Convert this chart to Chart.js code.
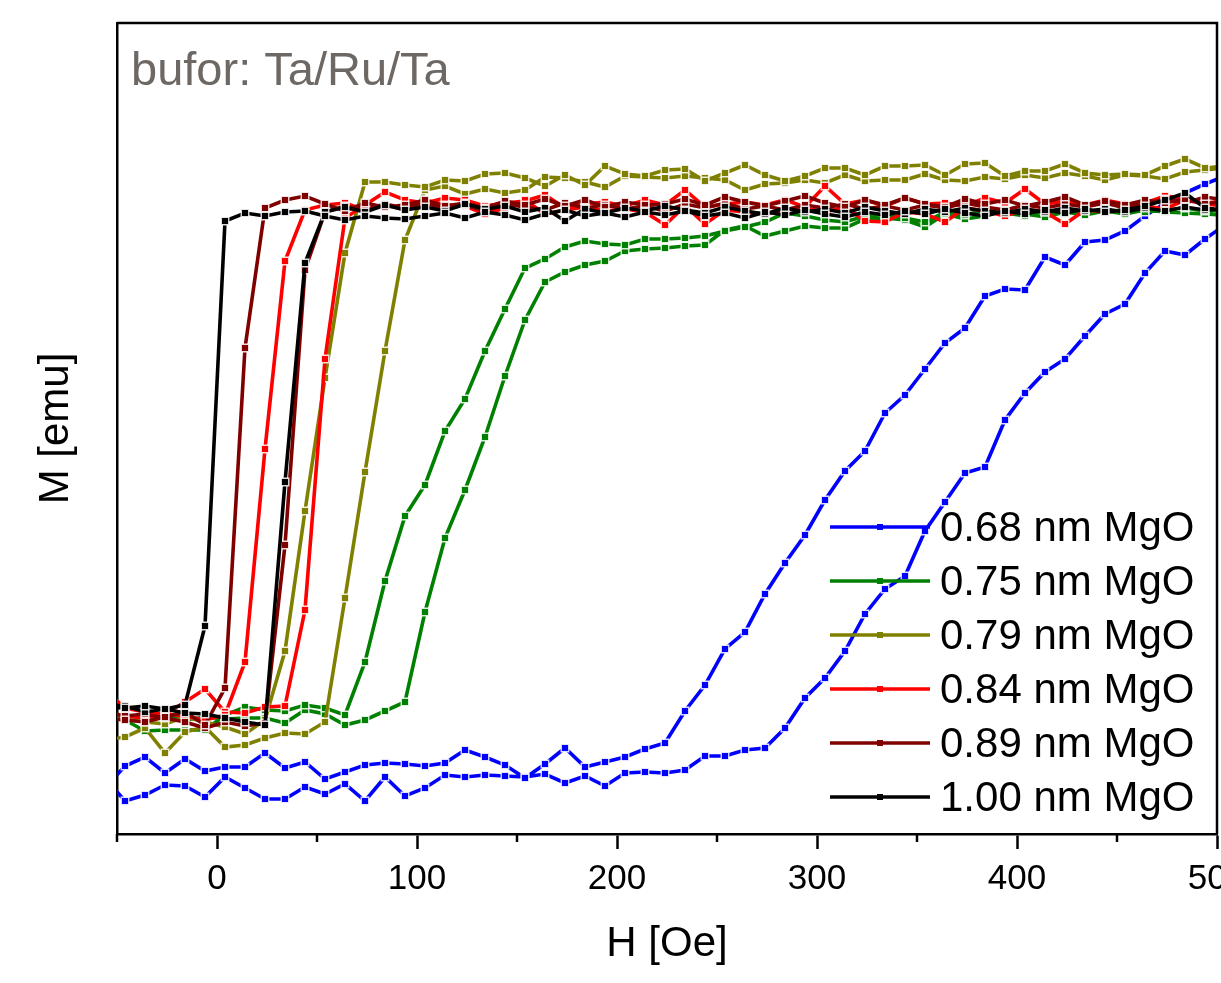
<!DOCTYPE html>
<html>
<head>
<meta charset="utf-8">
<title>MgO loops</title>
<script src="https://cdn.jsdelivr.net/npm/chart.js@4.4.1/dist/chart.umd.min.js"></script>
<style>
  html, body { margin: 0; padding: 0; background: #fff; }
  #wrap { width: 1221px; height: 983px; }
</style>
</head>
<body>
<div id="wrap"><canvas id="chart" width="1221" height="983"></canvas></div>
<script>
// Field grid (Oe) shared by every branch
const hField = [-56,-46,-36,-26,-16,-6,4,14,24,34,44,54,64,74,84,94,104,114,124,134,
  144,154,164,174,184,194,204,214,224,234,244,254,264,274,284,294,304,314,324,334,
  344,354,364,374,384,394,404,414,424,434,444,454,464,474,484,494,504];

// Magnetization (arb. units), "Up" = ascending field branch, "Dn" = descending branch
const m068Up = [5.6,3.3,3.9,4.9,4.8,3.7,5.7,4.6,3.5,3.5, 4.7,4.0,5.0,3.3,5.7,3.8,4.6,5.9,5.7,5.9,
  5.8,5.7,6.0,5.1,5.8,4.8,6.1,6.2,6.1,6.4, 7.8,7.8,8.4,8.6,10.6,13.6,15.6,18.3,22.0,24.5,
  25.8,30.3,33.2,36.1,36.7,41.4,44.1,46.2,47.5,49.8, 52.0,53.0,56.1,58.3,57.9,59.5,60.9];
const m068Dn = [4.6,6.8,7.7,6.1,7.5,6.3,6.7,6.7,8.1,6.6, 7.2,5.5,6.2,6.9,7.1,7.0,6.8,7.1,8.4,7.7,
  6.9,5.6,7.0,8.6,6.7,7.2,7.7,8.5,9.1,12.3, 14.9,18.5,20.2,24.0,27.1,29.9,33.4,36.3,38.3,42.1,
  43.9,46.5,49.1,50.6,53.8,54.5,54.4,57.7,56.9,59.2, 59.4,60.3,61.8,63.1,64.1,65.0,65.8];

const m075Up = [12.2,11.8,11.6,11.8,11.4,11.7,11.5,11.6,11.6,11.1, 12.4,12.0,10.9,11.4,12.3,13.2,22.2,29.6,34.4,39.7,
  45.8,51.4,55.2,56.2,56.9,57.3,58.3,58.5,58.6,58.8, 58.9,60.4,60.8,59.8,60.3,60.8,60.6,60.6,61.5,61.6,
  61.4,60.7,62.0,61.5,61.8,62.4,62.0,61.7,62.2,61.9, 62.3,62.0,62.4,62.2,62.1,62.0,61.9];
const m075Dn = [12.6,11.4,10.3,10.4,10.4,10.4,11.9,12.7,12.4,12.3, 12.9,12.6,11.9,17.2,25.3,31.8,34.9,40.3,43.5,48.3,
  52.5,56.6,57.5,58.7,59.3,59.0,58.9,59.5,59.5,59.6, 59.8,60.3,60.7,61.2,62.1,61.8,61.4,61.2,61.8,62.0,
  61.6,61.2,62.2,61.9,62.4,62.1,61.8,62.3,62.0,62.4, 62.1,62.5,62.2,62.4,62.6,62.3,62.4];

const m079Up = [9.4,9.7,10.6,8.1,10.2,10.7,8.7,8.9,9.6,10.1, 10.0,11.2,23.6,36.2,48.3,59.4,64.4,64.8,64.0,64.5,
  64.1,64.4,65.7,65.6,65.2,64.7,65.8,65.7,65.6,65.8, 65.6,65.4,64.4,65.0,65.1,65.4,65.1,65.9,65.3,65.4,
  65.4,66.0,65.4,65.3,65.7,65.5,65.9,65.6,66.1,65.8, 65.4,65.9,65.8,65.5,66.2,66.4,66.6];
const m079Dn = [11.4,11.5,11.2,11.0,11.7,11.2,10.7,10.0,11.4,18.3, 32.3,45.6,58.1,65.2,65.2,64.9,64.7,65.4,65.3,66.0,
  66.1,65.6,64.8,65.9,64.9,66.8,66.0,65.8,66.4,66.5, 65.3,66.1,66.9,65.9,65.3,65.8,66.6,66.6,65.9,66.8,
  66.8,66.9,65.9,67.0,67.1,65.8,66.3,66.3,67.0,66.1, 65.9,66.0,65.9,66.8,67.5,66.6,66.8];

const m084Up = [14.4,12.6,12.2,12.0,13.2,14.5,12.2,12.1,12.7,12.8, 22.4,47.5,61.6,62.9,64.2,63.4,63.1,63.6,63.4,62.8,
  63.1,63.3,63.9,62.6,63.0,63.2,62.8,63.4,62.9,64.4, 62.7,63.0,63.2,62.9,63.4,62.7,64.8,63.0,63.4,62.8,
  63.6,63.0,63.1,62.8,63.6,63.1,64.5,63.0,63.3,62.9, 63.4,63.0,63.1,63.8,63.6,63.1,63.3];
const m084Dn = [12.2,11.8,11.6,12.0,11.8,11.4,11.9,17.2,38.5,57.3, 62.4,62.9,63.1,62.4,63.0,62.4,63.4,62.9,62.8,62.0,
  62.6,63.4,62.0,62.4,62.7,62.3,62.5,62.2,60.9,62.8, 61.0,62.4,62.2,62.0,62.4,62.6,62.2,62.7,61.3,61.2,
  62.2,62.0,61.2,62.6,62.3,61.8,62.5,62.2,61.0,62.4, 62.2,62.4,62.8,62.5,63.4,63.0,62.8];

const m089Up = [12.2,11.8,12.0,11.6,11.2,10.6,11.2,10.8,11.1,28.9, 56.4,62.2,62.8,62.4,63.0,62.6,63.1,62.5,62.9,62.3,
  63.0,62.7,62.4,63.1,62.6,62.9,62.5,62.8,62.3,63.0, 62.6,63.1,62.5,62.8,62.4,62.9,62.6,63.0,62.5,62.8,
  62.4,62.9,62.6,63.1,62.7,62.4,62.9,62.6,63.0,62.7, 63.1,62.6,63.0,63.5,63.1,63.7,63.4];
const m089Dn = [11.6,11.4,11.2,11.7,12.2,10.9,14.6,48.6,62.6,63.4, 63.8,63.0,62.3,63.1,62.7,62.9,63.4,62.8,63.1,62.6,
  63.3,62.9,63.5,62.8,63.4,62.7,63.2,62.9,63.0,63.5, 62.9,63.7,63.2,62.8,63.3,63.8,63.1,62.7,63.4,62.9,
  63.6,63.0,62.7,63.5,63.0,63.4,62.8,63.2,63.7,62.9, 63.3,62.9,63.4,63.1,63.5,63.0,63.3];

const m100Up = [12.9,12.8,12.2,12.5,12.1,12.0,11.6,11.2,10.9,35.2, 57.1,62.2,62.7,62.2,62.9,62.4,62.7,62.3,63.0,62.5,
  62.8,62.2,62.6,61.3,62.5,62.1,62.6,62.3,62.8,62.4, 62.1,62.7,62.3,62.0,62.6,62.2,62.5,62.1,62.7,62.3,
  62.0,62.5,62.2,62.6,62.3,62.1,62.5,62.2,62.6,62.3, 62.5,62.2,62.6,62.3,62.7,62.4,62.5];
const m100Dn = [12.7,12.6,12.8,12.5,12.9,20.8,61.3,62.1,61.8,62.2, 62.3,61.8,61.4,61.8,61.6,61.5,61.8,62.1,61.6,62.2,
  61.9,61.4,62.0,62.4,61.8,62.1,61.7,62.2,61.9,62.3, 61.8,62.1,61.6,62.2,61.9,62.4,62.0,61.7,62.2,61.9,
  62.3,62.0,62.5,62.1,61.8,62.3,62.0,62.4,62.1,62.5, 62.2,62.4,62.8,63.4,64.1,62.6,62.4];

const sampleLabels = ['0.68 nm MgO', '0.75 nm MgO', '0.79 nm MgO', '0.84 nm MgO', '0.89 nm MgO', '1.00 nm MgO'];
const majorTicks = [0, 100, 200, 300, 400, 500];
const minorTicks = [-50, 50, 150, 250, 350, 450];

const sampleColors = ['#0000ff', '#008000', '#808000', '#ff0000', '#800000', '#000000'];
const branches = [[m068Up, m068Dn], [m075Up, m075Dn], [m079Up, m079Dn],
  [m084Up, m084Dn], [m089Up, m089Dn], [m100Up, m100Dn]];

const FONT = "'Liberation Sans', Arial, sans-serif";
Chart.defaults.font.family = FONT;
Chart.defaults.color = '#000';

// one closed loop per sample: ascending branch, then descending branch back
const datasets = sampleLabels.map((label, i) => {
  const [up, dn] = branches[i];
  const loop = hField.map((h, k) => ({ x: h, y: up[k] }))
    .concat(hField.map((h, k) => ({ x: h, y: dn[k] })).reverse());
  return {
    label,
    data: loop,
    borderColor: sampleColors[i],
    backgroundColor: sampleColors[i],
    borderWidth: 3.6,
    pointStyle: 'rect',
    pointRadius: 5.3,
    pointBorderWidth: 1.4,
    pointBorderColor: 'rgba(255,255,255,0.85)',
    pointBackgroundColor: sampleColors[i],
    tension: 0,
    order: sampleLabels.length - i
  };
});

// frame on top and right, minor ticks
const framePlugin = {
  id: 'frame',
  afterDraw(chart) {
    const { ctx, chartArea: a } = chart;
    ctx.save();
    ctx.strokeStyle = '#000';
    ctx.lineWidth = 2.5;
    ctx.beginPath();
    ctx.moveTo(a.left, a.top);
    ctx.lineTo(a.right, a.top);
    ctx.lineTo(a.right, a.bottom);
    ctx.stroke();
    const xs = chart.scales.x;
    ctx.beginPath();
    minorTicks.forEach(v => {
      const px = xs.getPixelForValue(v);
      ctx.moveTo(px, a.bottom);
      ctx.lineTo(px, a.bottom + 8);
    });
    ctx.stroke();
    ctx.restore();
  }
};

// sample name and legend inside the plot
const notePlugin = {
  id: 'note',
  afterDraw(chart) {
    const { ctx, chartArea: a } = chart;
    ctx.save();
    ctx.fillStyle = '#6d6863';
    ctx.font = '47px ' + FONT;
    ctx.textBaseline = 'alphabetic';
    ctx.fillText('bufor: Ta/Ru/Ta', a.left + 14, a.top + 62);

    const x0 = a.right - 387, x1 = a.right - 287;
    ctx.font = '42px ' + FONT;
    ctx.textBaseline = 'middle';
    const n = chart.data.datasets.length;
    chart.data.datasets.forEach((ds, i) => {
      const y = a.bottom - 37 - (n - 1 - i) * 54;
      ctx.strokeStyle = ds.borderColor;
      ctx.lineWidth = 3.5;
      ctx.beginPath();
      ctx.moveTo(x0, y);
      ctx.lineTo(x1, y);
      ctx.stroke();
      ctx.fillStyle = ds.borderColor;
      ctx.fillRect((x0 + x1) / 2 - 3, y - 3, 6, 6);
      ctx.fillStyle = '#000';
      ctx.fillText(ds.label, x1 + 10, y + 2);
    });
    ctx.restore();
  }
};

new Chart(document.getElementById('chart'), {
  type: 'line',
  data: { datasets },
  options: {
    responsive: false,
    animation: false,
    events: [],
    layout: { autoPadding: false, padding: { top: 23, right: 4, left: 0, bottom: 0 } },
    plugins: { legend: { display: false }, tooltip: { enabled: false } },
    scales: {
      x: {
        type: 'linear',
        min: -50,
        max: 500,
        afterBuildTicks: s => { s.ticks = majorTicks.map(v => ({ value: v })); },
        afterFit: s => { s.height = 149; s.paddingLeft = 0; s.paddingRight = 0; },
        ticks: { font: { size: 35 }, color: '#000', padding: 9, maxRotation: 0, autoSkip: false },
        grid: { drawOnChartArea: false, drawTicks: true, tickLength: 15, tickWidth: 2.5, tickColor: '#000' },
        border: { display: true, width: 2.5, color: '#000' },
        title: { display: true, text: 'H [Oe]', font: { size: 42 }, color: '#000', padding: { top: 0, bottom: 13 } }
      },
      y: {
        type: 'linear',
        min: 0,
        max: 81.1,
        afterFit: s => { s.width = 117; s.paddingTop = 0; s.paddingBottom = 0; },
        ticks: { display: false },
        grid: { drawOnChartArea: false, drawTicks: false },
        border: { display: true, width: 2.5, color: '#000' },
        title: { display: true, text: 'M [emu]', font: { size: 42 }, color: '#000', padding: { top: 31, bottom: 0 } }
      }
    }
  },
  plugins: [framePlugin, notePlugin]
});
</script>
</body>
</html>
